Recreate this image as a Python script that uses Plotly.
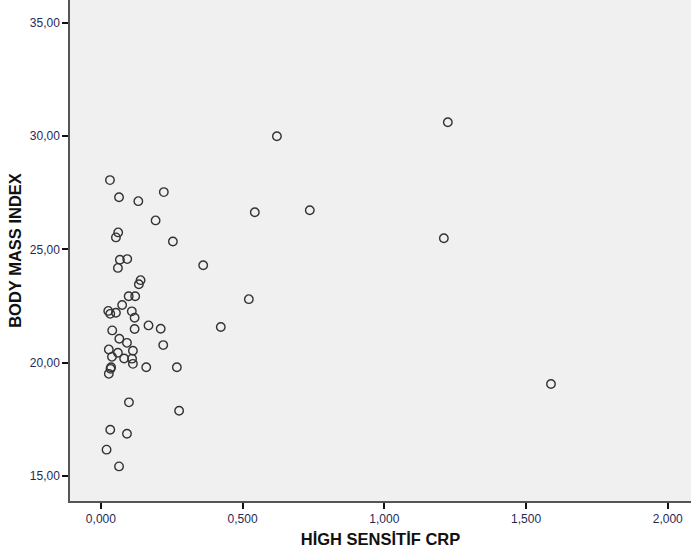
import plotly.graph_objects as go

# High-sensitivity CRP (x) against body mass index (y), one point per subject
crp = [1.224, 0.621, 0.032, 0.222, 0.064, 0.132, 0.737, 0.543, 0.193, 0.061,
       0.053, 0.254, 1.210, 0.067, 0.093, 0.060, 0.361, 0.140, 0.134, 0.098,
       0.121, 0.522, 0.075, 0.026, 0.033, 0.053, 0.109, 0.119, 0.040, 0.119,
       0.168, 0.211, 0.423, 0.065, 0.092, 0.028, 0.060, 0.113, 0.220, 0.039,
       0.082, 0.110, 0.113, 0.036, 0.034, 0.028, 0.160, 0.268, 1.588, 0.099,
       0.276, 0.033, 0.092, 0.020, 0.064]
bmi = [30.62, 30.00, 28.06, 27.53, 27.30, 27.13, 26.73, 26.64, 26.28, 25.75,
       25.53, 25.35, 25.49, 24.54, 24.57, 24.18, 24.30, 23.64, 23.46, 22.93,
       22.93, 22.80, 22.54, 22.28, 22.15, 22.20, 22.26, 21.98, 21.42, 21.48,
       21.64, 21.49, 21.57, 21.05, 20.87, 20.58, 20.43, 20.52, 20.77, 20.25,
       20.18, 20.17, 19.94, 19.79, 19.72, 19.50, 19.79, 19.79, 19.05, 18.24,
       17.87, 17.03, 16.85, 16.15, 15.41]

x_ticks = [0.0, 0.5, 1.0, 1.5, 2.0]
x_tick_labels = ["0,000", "0,500", "1,000", "1,500", "2,000"]
y_ticks = [15, 20, 25, 30, 35]
y_tick_labels = ["15,00", "20,00", "25,00", "30,00", "35,00"]

fig = go.Figure(
    go.Scatter(
        x=crp, y=bmi, mode="markers",
        marker=dict(symbol="circle-open", size=8.5, color="#333333",
                    line=dict(width=1.4)),
        hoverinfo="x+y",
    )
)

axis_common = dict(
    showgrid=False, zeroline=False, showline=True, linecolor="#555555",
    linewidth=1.5, ticks="outside", ticklen=6, tickwidth=1.5, tickcolor="#111111",
    tickfont=dict(family="Arial, Liberation Sans", size=12, color="#1f2a56"),
)

title_font = dict(family="Arial, Liberation Sans", size=16.5, color="#111111")

fig.update_layout(
    width=691, height=558,
    margin=dict(l=70, r=0, t=0, b=57),
    paper_bgcolor="white", plot_bgcolor="#f0f0f0",
    showlegend=False,
    xaxis=dict(
        range=[-0.109, 2.082], tickvals=x_ticks, ticktext=x_tick_labels,
        title=dict(text="<b>HİGH SENSİTİF CRP</b>", standoff=8, font=title_font),
        **axis_common,
    ),
    yaxis=dict(
        range=[13.88, 36.02], tickvals=y_ticks, ticktext=y_tick_labels,
        title=dict(text="<b>BODY MASS INDEX</b>", standoff=4, font=title_font),
        **axis_common,
    ),
)

fig.write_html("out.html")
